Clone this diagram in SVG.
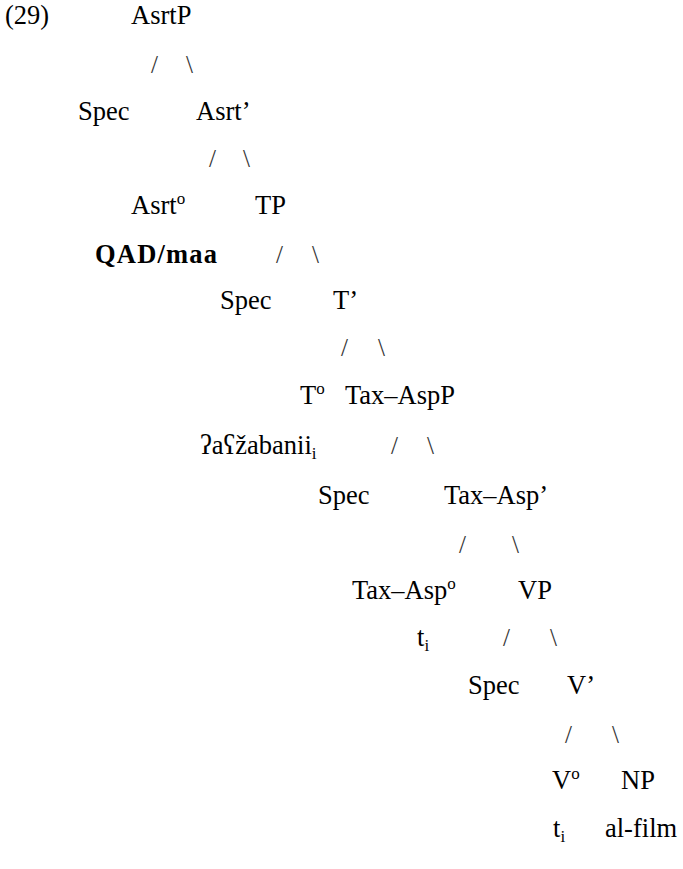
<svg xmlns="http://www.w3.org/2000/svg" width="683" height="869" viewBox="0 0 683 869">
  <style>
    text { font-family: "Liberation Serif", "Times New Roman", "DejaVu Serif", serif; font-size: 26.5px; fill: #000; }
    .b { font-weight: bold; letter-spacing: 1.2px; }
    .sup { font-size: 17px; }
    .sub { font-size: 17px; }
    .br { fill: #333; font-size: 25px; }
  </style>
  <rect width="683" height="869" fill="#fff"/>

  <text id="ex-num" x="5" y="24">(29)</text>

  <!-- tree nodes -->
  <g id="asrtp"><text x="131" y="24">AsrtP</text></g>
  <g id="spec1"><text x="78" y="120">Spec</text></g>
  <g id="asrt-bar"><text x="196" y="120">Asrt’</text></g>
  <g id="asrt-head"><text x="131" y="214">Asrt<tspan class="sup" dy="-10">o</tspan></text></g>
  <g id="tp"><text x="255" y="214">TP</text></g>
  <g id="qad"><text class="b" x="95" y="263">QAD/maa</text></g>
  <g id="spec2"><text x="220" y="309">Spec</text></g>
  <g id="t-bar"><text x="333" y="309">T’</text></g>
  <g id="t-head"><text x="300" y="404">T<tspan class="sup" dy="-10">o</tspan></text></g>
  <g id="taxaspp"><text x="345" y="404">Tax–AspP</text></g>
  <g id="verb"><text x="200" y="454">ʔaʕžabanii<tspan class="sub" dy="5">i</tspan></text></g>
  <g id="spec3"><text x="318" y="504">Spec</text></g>
  <g id="taxasp-bar"><text x="444" y="504">Tax–Asp’</text></g>
  <g id="taxasp-head"><text x="352" y="599">Tax–Asp<tspan class="sup" dy="-10">o</tspan></text></g>
  <g id="vp"><text x="518" y="599">VP</text></g>
  <g id="trace1"><text x="417" y="646">t<tspan class="sub" dy="5">i</tspan></text></g>
  <g id="spec4"><text x="468" y="694">Spec</text></g>
  <g id="v-bar"><text x="567" y="694">V’</text></g>
  <g id="v-head"><text x="552" y="789">V<tspan class="sup" dy="-10">o</tspan></text></g>
  <g id="np"><text x="621" y="789">NP</text></g>
  <g id="trace2"><text x="553" y="837">t<tspan class="sub" dy="5">i</tspan></text></g>
  <g id="alfilm"><text x="605" y="837">al-film</text></g>

  <!-- branches -->
  <g id="connectors">
    <text class="br" x="151" y="73">/</text><text class="br" x="186" y="73">\</text>
    <text class="br" x="209" y="167">/</text><text class="br" x="243" y="167">\</text>
    <text class="br" x="276" y="263">/</text><text class="br" x="312" y="263">\</text>
    <text class="br" x="341" y="356">/</text><text class="br" x="378" y="356">\</text>
    <text class="br" x="391" y="454">/</text><text class="br" x="427" y="454">\</text>
    <text class="br" x="459" y="553">/</text><text class="br" x="512" y="553">\</text>
    <text class="br" x="503" y="646">/</text><text class="br" x="550" y="646">\</text>
    <text class="br" x="565" y="743">/</text><text class="br" x="612" y="743">\</text>
  </g>
</svg>
